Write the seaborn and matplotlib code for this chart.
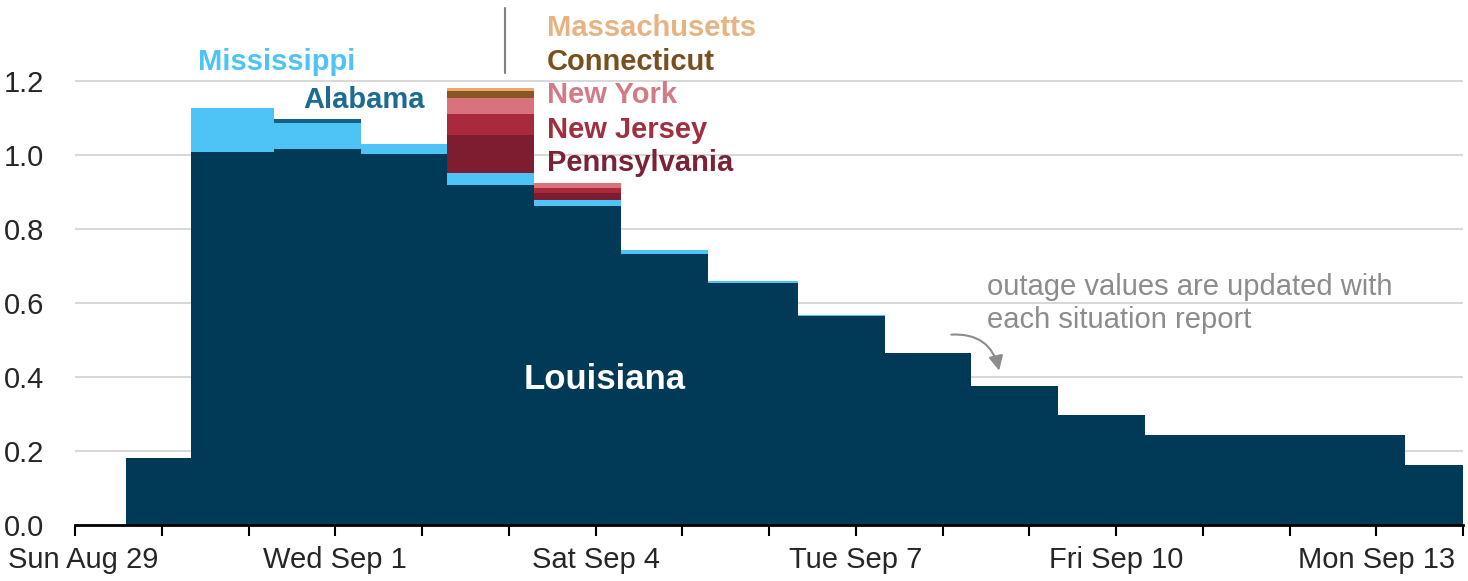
import numpy as np
import pandas as pd
import seaborn as sns
import matplotlib
matplotlib.use("Agg")
import matplotlib.pyplot as plt
import matplotlib.dates as mdates
from matplotlib.transforms import ScaledTranslation

# situation report times (each value holds until the next report)
report_times = ["2021-08-29 14:00", "2021-08-30 08:00", "2021-08-31 07:00",
                "2021-09-01 07:00", "2021-09-02 07:00", "2021-09-03 07:00",
                "2021-09-04 07:00", "2021-09-05 07:00", "2021-09-06 08:00",
                "2021-09-07 08:00", "2021-09-08 08:00", "2021-09-09 08:00",
                "2021-09-10 08:00", "2021-09-13 08:00"]
end_time = "2021-09-14 00:00"

# customers out, millions
louisiana     = [0.182, 1.007, 1.017, 1.002, 0.919, 0.862, 0.732, 0.655, 0.565, 0.465, 0.377, 0.298, 0.243, 0.162]
mississippi   = [0.0, 0.119, 0.070, 0.028, 0.033, 0.016, 0.012, 0.004, 0.003, 0.0, 0.0, 0.0, 0.0, 0.0]
alabama       = [0.0, 0.0, 0.010, 0.0, 0.0, 0.0, 0.0, 0.0, 0.0, 0.0, 0.0, 0.0, 0.0, 0.0]
pennsylvania  = [0.0, 0.0, 0.0, 0.0, 0.101, 0.020, 0.0, 0.0, 0.0, 0.0, 0.0, 0.0, 0.0, 0.0]
new_jersey    = [0.0, 0.0, 0.0, 0.0, 0.059, 0.014, 0.0, 0.0, 0.0, 0.0, 0.0, 0.0, 0.0, 0.0]
new_york      = [0.0, 0.0, 0.0, 0.0, 0.043, 0.013, 0.0, 0.0, 0.0, 0.0, 0.0, 0.0, 0.0, 0.0]
connecticut   = [0.0, 0.0, 0.0, 0.0, 0.018, 0.0, 0.0, 0.0, 0.0, 0.0, 0.0, 0.0, 0.0, 0.0]
massachusetts = [0.0, 0.0, 0.0, 0.0, 0.007, 0.0, 0.0, 0.0, 0.0, 0.0, 0.0, 0.0, 0.0, 0.0]

states = ["Louisiana", "Mississippi", "Alabama", "Pennsylvania",
          "New Jersey", "New York", "Connecticut", "Massachusetts"]
series = [louisiana, mississippi, alabama, pennsylvania,
          new_jersey, new_york, connecticut, massachusetts]
fill_colors = ["#003a57", "#4dc4f5", "#185f86", "#7d1d2f",
               "#a82a3c", "#d8737e", "#8a5724", "#e9aa72"]
label_colors = ["#ffffff", "#4dc4f5", "#1d6a92", "#7b2237",
                "#a03040", "#d27b85", "#7a4f1e", "#e7b382"]

tick_dates = ["2021-08-29", "2021-09-01", "2021-09-04", "2021-09-07", "2021-09-10", "2021-09-13"]
tick_labels = ["Sun Aug 29", "Wed Sep 1", "Sat Sep 4", "Tue Sep 7", "Fri Sep 10", "Mon Sep 13"]
y_ticks = [0.0, 0.2, 0.4, 0.6, 0.8, 1.0, 1.2]

# long-form table for seaborn
t_num = mdates.date2num(pd.to_datetime(report_times))
edges = [float(e) for e in np.append(t_num, mdates.date2num(pd.Timestamp(end_time)))]
rows = []
for st, vals in zip(states, series):
    for t, v in zip(t_num, vals):
        rows.append((st, float(t), v))
df = pd.DataFrame(rows, columns=["state", "time", "outage"])

sns.set_theme(style="white")
plt.rcParams["font.family"] = ["Liberation Sans", "DejaVu Sans"]

fig = plt.figure(figsize=(14.68, 5.81), dpi=100)
ax = fig.add_axes([75 / 1468, 56 / 581, 1388 / 1468, 525 / 581])

# seaborn stacks the first hue level on top, so pass top-to-bottom
pal = dict(zip(states, fill_colors))
sns.histplot(data=df, x="time", weights="outage", hue="state",
             hue_order=states[::-1], palette=pal, bins=edges,
             multiple="stack", element="step", fill=True, alpha=1,
             linewidth=0, edgecolor="none", legend=False, ax=ax)

day0 = mdates.date2num(pd.Timestamp("2021-08-29"))
ax.set_xlim(day0, day0 + 16)
ax.set_ylim(0, 525 / 370)
ax.set_xlabel("")
ax.set_ylabel("")

ax.set_xticks(mdates.date2num(pd.to_datetime(tick_dates)))
ax.set_xticklabels(tick_labels)
ax.set_xticks(day0 + np.arange(17), minor=True)
ax.tick_params(axis="x", which="both", direction="out", length=8, width=1.5,
               color="black", bottom=True)
ax.tick_params(axis="x", which="major", labelsize=21, labelcolor="#262626", pad=7)
# first date label sits a little right of its tick so it fits
first = ax.get_xticklabels()[0]
first.set_transform(first.get_transform() + ScaledTranslation(0.08, 0, fig.dpi_scale_trans))
ax.set_yticks(y_ticks)
ax.set_yticklabels([f"{v:.1f}" for v in y_ticks])
ax.tick_params(axis="y", length=0, labelsize=21, labelcolor="#262626", pad=22)

ax.grid(axis="y", color="#d9d9d9", linewidth=1.5)
ax.set_axisbelow(True)
sns.despine(ax=ax, left=True)
ax.spines["bottom"].set_color("black")
ax.spines["bottom"].set_linewidth(2)

# state labels
lab = dict(zip(states, label_colors))
ax.text(day0 + 6.11, 0.392, "Louisiana", color=lab["Louisiana"], fontsize=25,
        fontweight="bold", ha="center", va="center")
ax.text(day0 + 1.418, 1.251, "Mississippi", color=lab["Mississippi"], fontsize=21,
        fontweight="bold", ha="left", va="center")
ax.text(day0 + 2.628, 1.149, "Alabama", color=lab["Alabama"], fontsize=21,
        fontweight="bold", ha="left", va="center")
ne_y = {"Massachusetts": 1.343, "Connecticut": 1.251, "New York": 1.162,
        "New Jersey": 1.068, "Pennsylvania": 0.978}
for st, yy in ne_y.items():
    ax.text(day0 + 5.441, yy, st, color=lab[st], fontsize=21,
            fontweight="bold", ha="left", va="center")

ax.plot([day0 + 4.957, day0 + 4.957], [1.222, 1.397], color="#808080",
        linewidth=1.5, clip_on=False)

ax.text(day0 + 10.513, 0.599, "outage values are updated with\neach situation report",
        color="#8c8c8c", fontsize=21, ha="left", va="center", linespacing=1.25)
ax.annotate("", xy=(day0 + 10.66, 0.41), xytext=(day0 + 10.07, 0.514),
            arrowprops=dict(arrowstyle="-|>", color="#8c8c8c", lw=1.5,
                            mutation_scale=22,
                            connectionstyle="arc3,rad=-0.45"))

fig.savefig("out.png", dpi=100)
